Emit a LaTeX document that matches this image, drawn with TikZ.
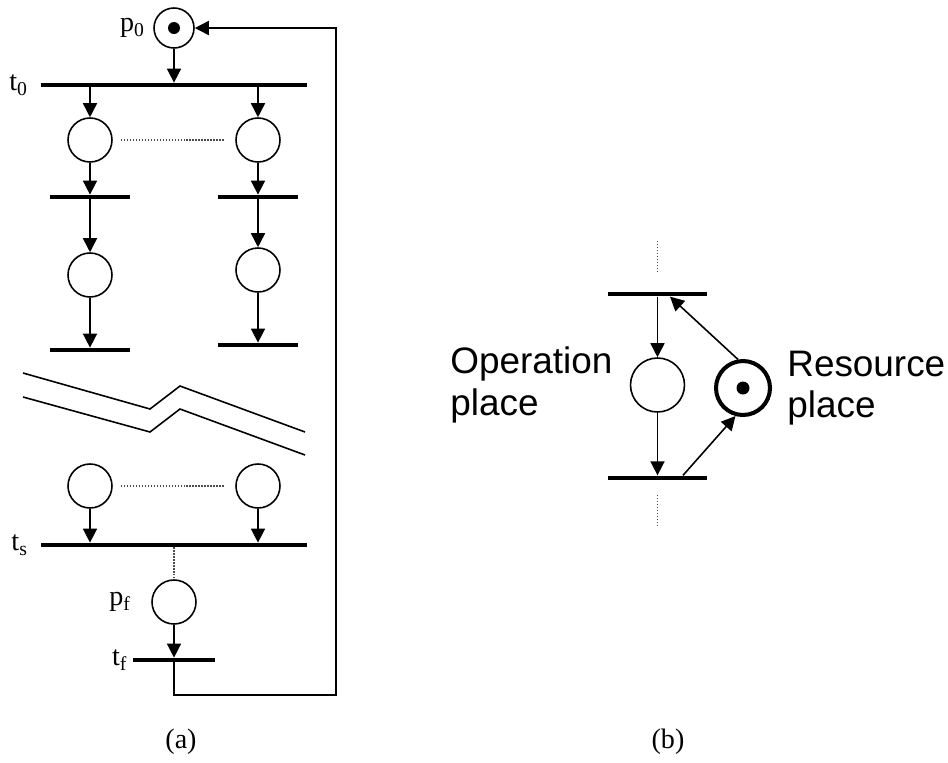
\documentclass[tikz,border=0pt]{standalone}
\usepackage{fontspec}
\setmainfont{Liberation Serif}
\setsansfont{Liberation Sans}
\usetikzlibrary{arrows.meta,positioning}

\begin{document}
\begin{tikzpicture}[
  x=0.02cm, y=-0.02cm,
  place/.style={circle, draw, line width=0.9pt, minimum size=0.88cm, inner sep=0},
  token/.style={circle, fill, inner sep=0, minimum size=0.24cm},
  trans/.style={fill, inner sep=0, minimum height=2.3pt},
  arc/.style={-{Triangle[length=8pt,width=8pt]}, line width=0.9pt},
  dots/.style={densely dotted, line width=0.7pt, black!70},
  lbl/.style={inner sep=0, font=\fontsize{16}{18}\selectfont},
  txt/.style={inner sep=0, align=left, font=\sffamily\fontsize{21}{23.5}\selectfont}
]
\useasboundingbox (0,0) rectangle (948,762);

% (a)
\node[place, minimum size=0.8cm] (p0) at (174,28) {};
\node[token] (p0tok) at (p0) {};
\node[lbl, left=0.16cm of p0] (p0lbl) {p\textsubscript{0}};
\node[trans, minimum width=5.34cm] (t0) at (174,85) {};
\node[lbl, left=0.24cm of t0] (t0lbl) {t\textsubscript{0}};

\node[place] (p1) at (90,140) {};
\node[place] (p2) at (258,140) {};
\node[trans, minimum width=1.6cm] (t1) at (90,197) {};
\node[trans, minimum width=1.6cm] (t2) at (258,197) {};
\node[place] (p3) at (90,275) {};
\node[place] (p4) at (258,270) {};
\node[trans, minimum width=1.6cm] (t3) at (90,350) {};
\node[trans, minimum width=1.6cm] (t4) at (258,345) {};

\node[place] (p5) at (90,486) {};
\node[place] (p6) at (258,486) {};
\node[trans, minimum width=5.34cm] (ts) at (174,545) {};
\node[lbl, left=0.24cm of ts] (tslbl) {t\textsubscript{s}};

\node[place] (pf) at (174,602) {};
\node[lbl, left=0.4cm of pf] (pflbl) {p\textsubscript{f}};
\node[trans, minimum width=1.64cm] (tf) at (174,660) {};
\node[lbl, left=0.1cm of tf] (tflbl) {t\textsubscript{f}};
\coordinate (lp1) at (174,695);
\coordinate (lp2) at (336,695);

\draw[arc] (p0) -- (t0);
\draw[arc] (p1 |- t0.south) -- (p1);
\draw[arc] (p2 |- t0.south) -- (p2);
\draw[dots, shorten <=0.16cm, shorten >=0.22cm] (p1) -- (p2);
\draw[arc] (p1) -- (t1);
\draw[arc] (p2) -- (t2);
\draw[arc] (t1) -- (p3);
\draw[arc] (t2) -- (p4);
\draw[arc] (p3) -- (t3);
\draw[arc] (p4) -- (t4);

\draw[line width=0.9pt] (23,373) -- (150,409) -- (180,386) -- (305,432);
\draw[line width=0.9pt] (23,397) -- (150,432) -- (180,409) -- (305,455);

\draw[dots, shorten <=0.16cm, shorten >=0.22cm] (p5) -- (p6);
\draw[arc] (p5) -- (p5 |- ts.north);
\draw[arc] (p6) -- (p6 |- ts.north);
\draw[dots] (ts) -- (pf);
\draw[arc] (pf) -- (tf);
\draw[arc] (tf.center) -- (lp1) -- (lp2) |- (p0);

\node[lbl] (capa) at (181,742) {(a)};

% (b)
\node[trans, minimum width=1.98cm, minimum height=2.6pt] (tb1) at (657.5,294) {};
\node[trans, minimum width=1.98cm, minimum height=2.6pt] (tb2) at (657.5,478) {};
\node[place, minimum size=1.08cm] (op) at (657.5,385) {};
\node[place, minimum size=1.08cm, line width=2.3pt] (res) at (743,388) {};
\node[token, minimum size=0.26cm] (restok) at (res) {};
\node[txt, left=0.34cm of op] (oplbl) {Operation\\place};
\node[txt, right=0.3cm of res] (reslbl) {Resource\\place};

\draw[dots] ([yshift=0.44cm]tb1.center) -- ([yshift=1.08cm]tb1.center);
\draw[dots] ([yshift=-0.34cm]tb2.center) -- ([yshift=-0.98cm]tb2.center);
\draw[arc] (tb1) -- (op);
\draw[arc] (op) -- (tb2);
\draw[arc] (res.100) -- ([xshift=0.25cm]tb1.south);
\draw[arc] ([xshift=0.51cm]tb2.north) -- (res.255);

\node[lbl] (capb) at (668,742) {(b)};
\end{tikzpicture}
\end{document}
